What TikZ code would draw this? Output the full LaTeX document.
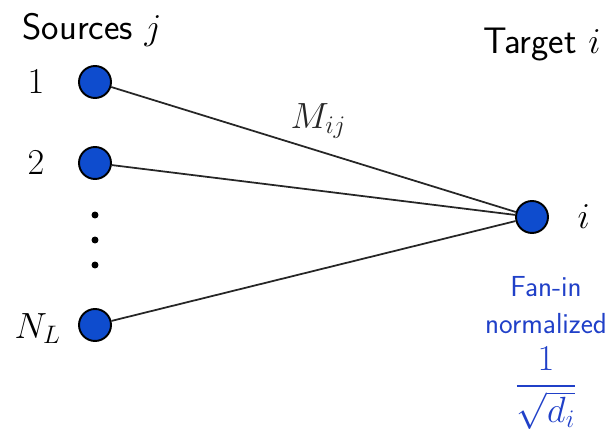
\documentclass[tikz,border=0pt]{standalone}
\usepackage{amsmath}
\usepackage{tikz}
\usetikzlibrary{positioning,calc}

\definecolor{nodeblue}{RGB}{14,76,206}
\definecolor{textblue}{RGB}{32,64,200}

\begin{document}
\begin{tikzpicture}[
        x=0.02cm, y=-0.02cm,
        node distance=0.55cm,
        unit/.style={circle, draw=black, line width=1.1pt, fill=nodeblue, minimum size=0.64cm, inner sep=0pt},
        idx/.style={font=\fontsize{22}{26}\selectfont},
        head/.style={font=\fontsize{21}{25}\selectfont\sffamily},
        link/.style={draw, line width=1pt, black!85},
        note/.style={font=\fontsize{16.5}{21.5}\selectfont\sffamily, text=textblue, align=center, inner sep=0.5pt}
    ]
        \useasboundingbox (0,0) rectangle (610,432);

        % Sources (left column)
        \node (s1) [unit] at (95,82) {};
        \node (s2) [unit] at (95,163) {};
        \node (sN) [unit] at (95,325) {};
        \node (d1) [circle, fill=black, inner sep=1.4pt] at (95,215) {};
        \node (d2) [circle, fill=black, inner sep=1.4pt] at (95,240) {};
        \node (d3) [circle, fill=black, inner sep=1.4pt] at (95,265) {};

        % Target
        \node (ti) [unit] at (532,217) {};

        % Labels
        \node (l1) [idx, left=of s1] {$1$};
        \node (l2) [idx, left=of s2] {$2$};
        \node (lN) [idx, left=0.22cm of sN, yshift=-2pt] {$N_L$};
        \node (li) [idx, right=0.45cm of ti] {$i$};
        \node (src) [head] at (92,30) {Sources $j$};
        \node (tgt) [head] at (542,45) {Target $i$};

        % Connections
        \draw [link] (s1) -- node[idx, above, yshift=0.08cm, xshift=0.1cm] {$M_{ij}$} (ti);
        \draw [link] (s2) -- (ti);
        \draw [link] (sN) -- (ti);

        % Normalization note
        \node (fan) [note] at (546,305) {Fan-in\\normalized};
        \node (frac) [note, font=\fontsize{21}{25}\selectfont] at (546,388) {$\dfrac{1}{\sqrt{d_i}}$};

    \end{tikzpicture}
\end{document}
